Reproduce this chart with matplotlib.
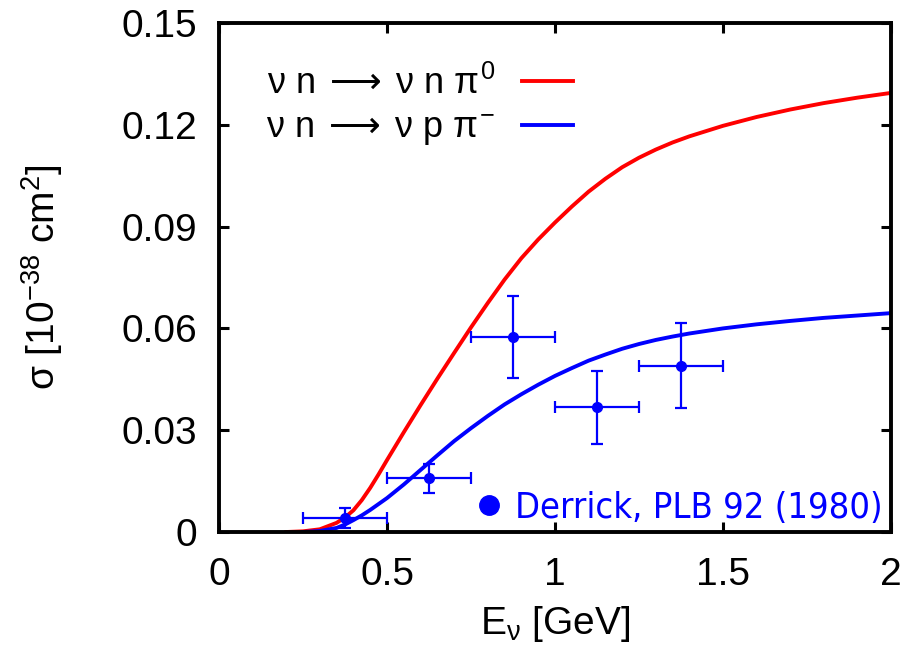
import matplotlib.pyplot as plt
from matplotlib.lines import Line2D

plt.rcParams['font.family'] = ['Liberation Sans', 'DejaVu Sans']
plt.rcParams['mathtext.fontset'] = 'custom'
plt.rcParams['mathtext.rm'] = 'Liberation Sans'
plt.rcParams['mathtext.it'] = 'Liberation Sans'
plt.rcParams['mathtext.bf'] = 'Liberation Sans:bold'
plt.rcParams['mathtext.sf'] = 'DejaVu Sans'

# theory curves
e_red = [0.20, 0.25, 0.30, 0.35, 0.375, 0.40, 0.425, 0.45, 0.475, 0.50,
         0.55, 0.60, 0.65, 0.70, 0.75, 0.80, 0.85, 0.90, 0.95, 1.00, 1.05,
         1.10, 1.15, 1.20, 1.25, 1.30, 1.35, 1.40, 1.50, 1.60, 1.70, 1.80,
         1.90, 2.00]
sig_red = [0.0, 0.0002, 0.0008, 0.0027, 0.0043, 0.0064, 0.0094, 0.0130,
           0.0170, 0.0212, 0.0294, 0.0374, 0.0452, 0.0528, 0.0603, 0.0675,
           0.0744, 0.0807, 0.0862, 0.0912, 0.0959, 0.1003, 0.1041, 0.1075,
           0.1103, 0.1127, 0.1148, 0.1166, 0.1197, 0.1223, 0.1245, 0.1264,
           0.1280, 0.1294]

e_blue = [0.25, 0.30, 0.35, 0.375, 0.40, 0.425, 0.45, 0.50, 0.55, 0.60,
          0.65, 0.70, 0.75, 0.80, 0.85, 0.90, 0.95, 1.00, 1.05, 1.10, 1.15,
          1.20, 1.25, 1.30, 1.35, 1.40, 1.50, 1.60, 1.70, 1.80, 1.90, 2.00]
sig_blue = [0.0, 0.0003, 0.0012, 0.0022, 0.0035, 0.0049, 0.0065, 0.0100,
            0.0140, 0.0183, 0.0226, 0.0268, 0.0306, 0.0342, 0.0376, 0.0406,
            0.0434, 0.0460, 0.0483, 0.0505, 0.0523, 0.0540, 0.0554, 0.0566,
            0.0576, 0.0585, 0.0600, 0.0612, 0.0622, 0.0631, 0.0638, 0.0645]

# Derrick, PLB 92 (1980)
e_data = [0.375, 0.625, 0.875, 1.125, 1.375]
e_err = [0.125, 0.125, 0.125, 0.125, 0.125]
sig_data = [0.0041, 0.0158, 0.0575, 0.0367, 0.0490]
sig_err = [0.0030, 0.0043, 0.0120, 0.0108, 0.0125]

fig = plt.figure(figsize=(9.05, 6.48), dpi=100)
ax = fig.add_axes([0.242, 0.179, 0.7425, 0.7855])

l1, = ax.plot(e_red, sig_red, color='#ff0000', lw=2.8)
l2, = ax.plot(e_blue, sig_blue, color='#0000ff', lw=2.8)
ax.errorbar(e_data, sig_data, xerr=e_err, yerr=sig_err, fmt='o', color='#0000ff',
            ms=7, elinewidth=1.6, capsize=4, capthick=1.6)

arrow = r'\;\mathsf{\longrightarrow}\;'
leg1 = ax.legend([l1, l2], [r'$\nu\ n' + arrow + r'\nu\ n\ \pi^0$',
                            r'$\nu\ n' + arrow + r'\nu\ p\ \pi^{-}$'],
                 loc='upper left', bbox_to_anchor=(0.022, 0.98), frameon=False,
                 markerfirst=False, fontsize=26, handlelength=1.4,
                 handletextpad=0.75, labelspacing=0.25)
ax.add_artist(leg1)

dot = Line2D([], [], ls='none', marker='o', color='#0000ff', ms=14)
ax.legend([dot], ['Derrick, PLB 92 (1980)'], loc='lower right',
          bbox_to_anchor=(1.036, -0.05), frameon=False,
          labelcolor='#0000ff', handlelength=1.0, handletextpad=0.22,
          prop={'family': 'DejaVu Sans', 'size': 26, 'stretch': 'condensed'})

ax.set_xlim(0, 2)
ax.set_ylim(0, 0.15)
ax.set_xticks([0, 0.5, 1, 1.5, 2])
ax.set_xticklabels(['0', '0.5', '1', '1.5', '2'])
ax.set_yticks([0, 0.03, 0.06, 0.09, 0.12, 0.15])
ax.set_yticklabels(['0', '0.03', '0.06', '0.09', '0.12', '0.15'])
ax.tick_params(direction='in', length=7, width=2.2, labelsize=28,
               top=True, right=True)
ax.tick_params(axis='x', pad=18)
ax.tick_params(axis='y', pad=16)
for s in ax.spines.values():
    s.set_linewidth(2.8)

ax.set_xlabel(r'E$_\nu$ [GeV]', fontsize=28, labelpad=8)
ax.set_ylabel(r'$\sigma$ [10$^{-38}$ cm$^2$]', fontsize=28, labelpad=40)

fig.savefig('out.png', dpi=100)
